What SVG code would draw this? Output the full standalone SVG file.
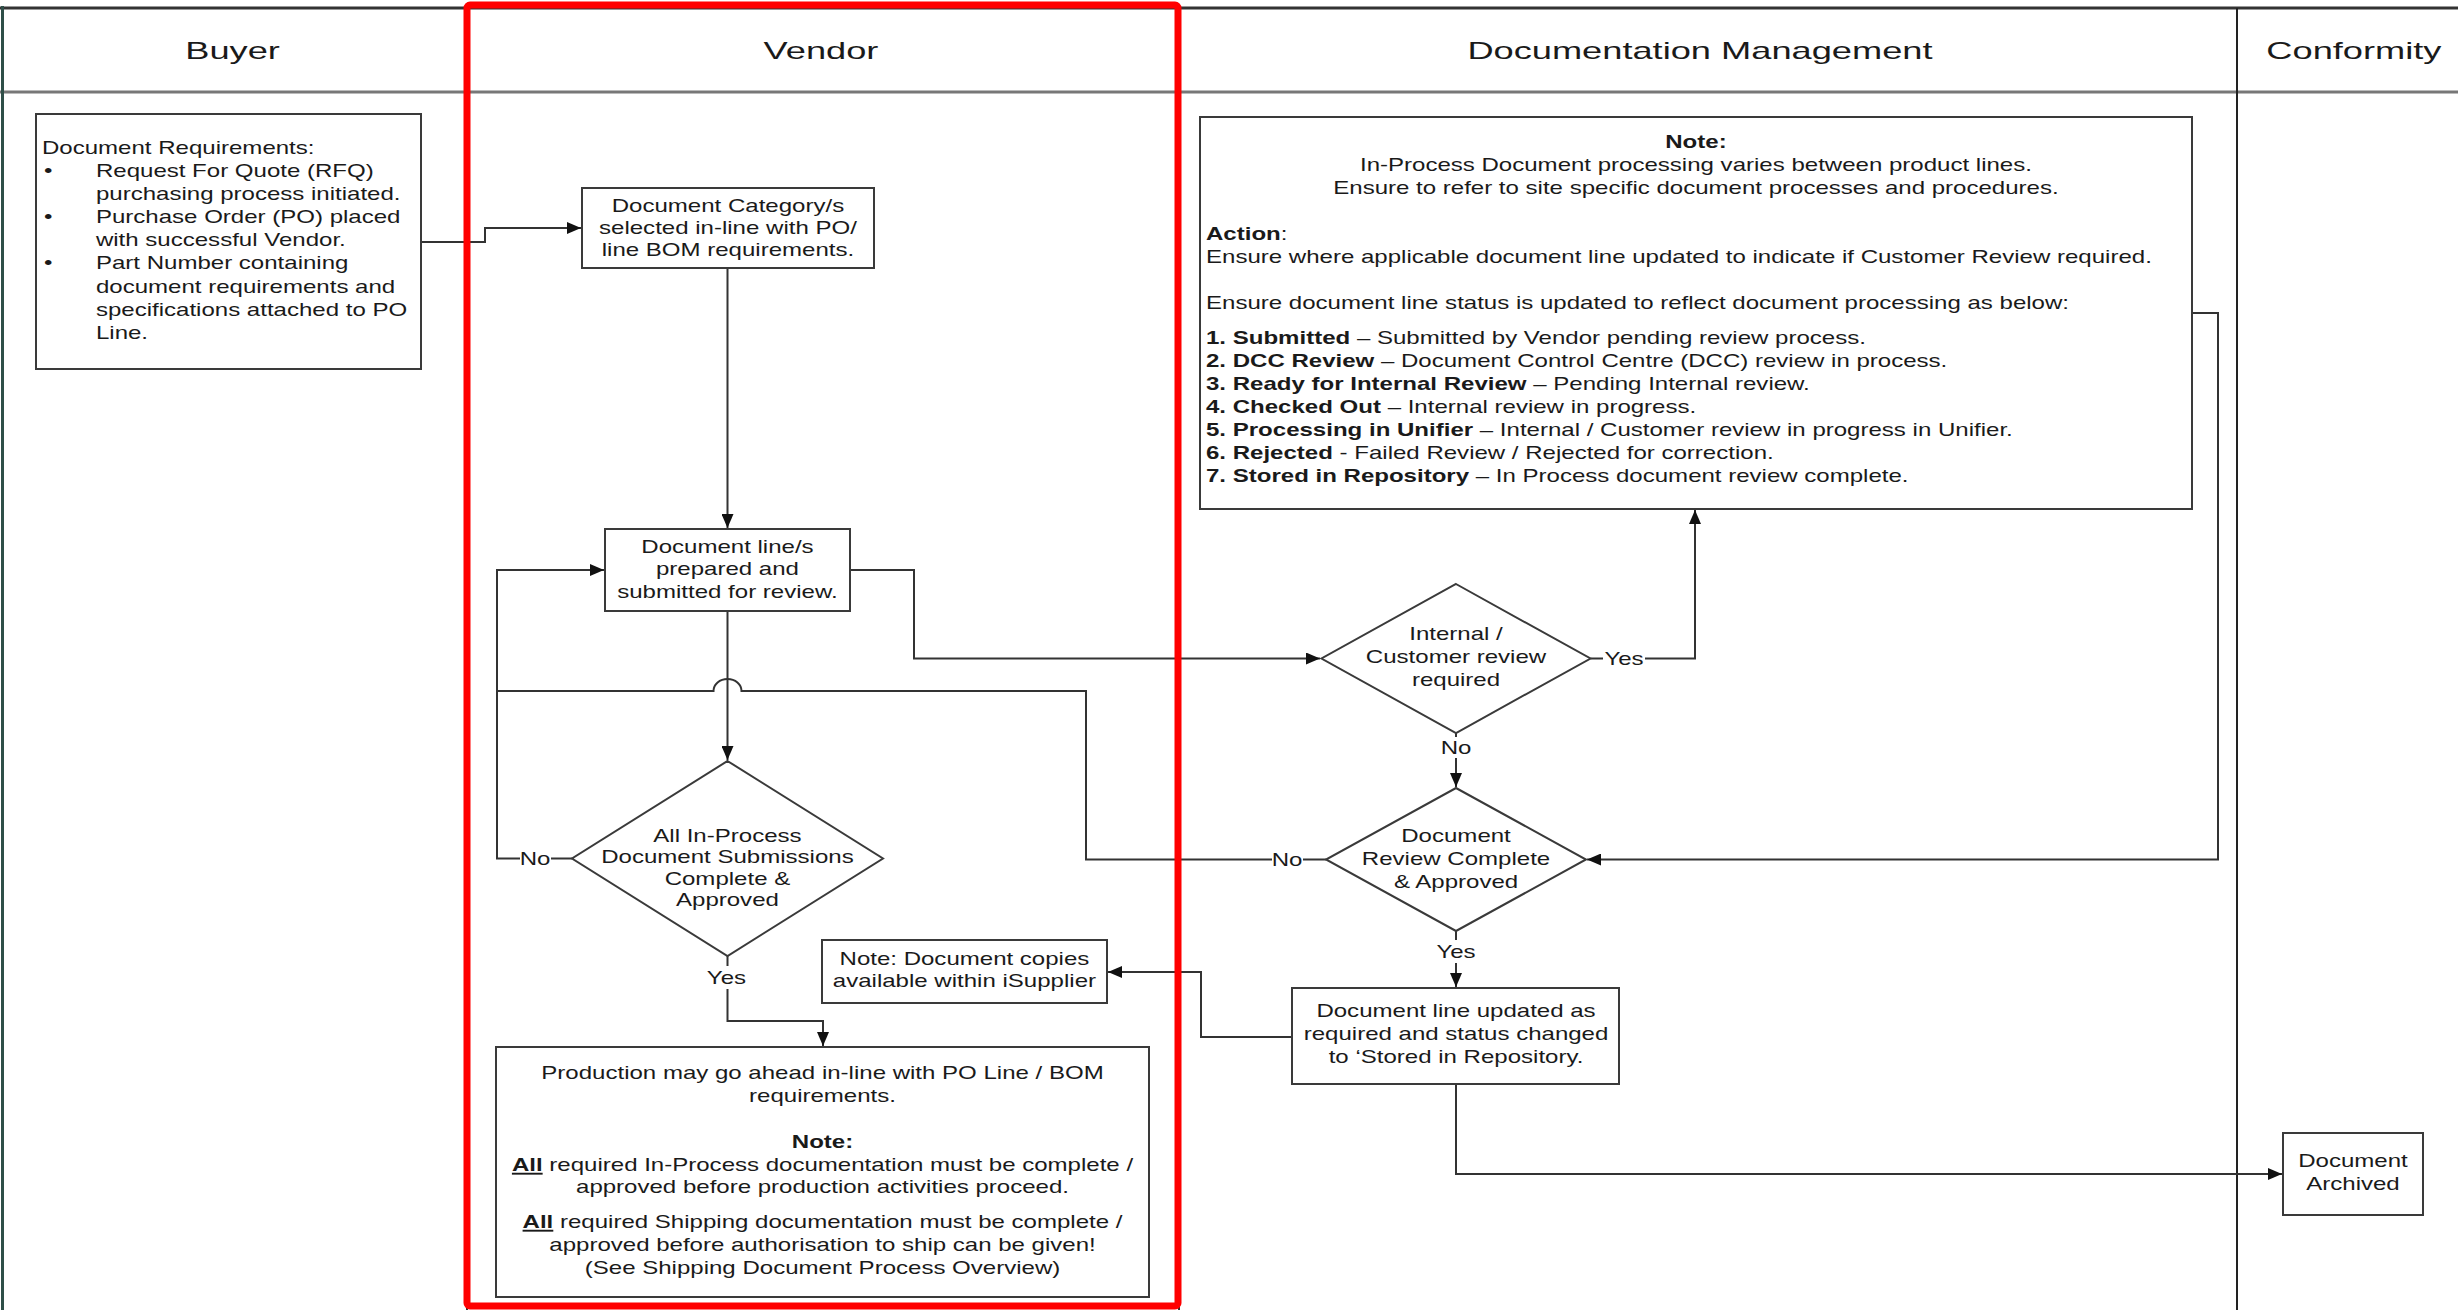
<svg xmlns="http://www.w3.org/2000/svg" width="2458" height="1310" viewBox="0 0 2458 1310">
<style>
.t{font-family:"Liberation Sans",Arial,sans-serif;font-size:19px;fill:#1a1a1a}
.c{text-anchor:middle}
.b{font-weight:bold}
.h{font-family:"Liberation Sans",Arial,sans-serif;font-size:24px;fill:#1a1a1a;text-anchor:middle}
.box{fill:#fff;stroke:#3a3a3a;stroke-width:2}
.ln{fill:none;stroke:#333;stroke-width:2}
.lab{fill:#fff;stroke:none}
.u{text-decoration:underline;font-weight:bold}
</style>
<defs>
<marker id="arr" viewBox="0 0 14 12" refX="14" refY="6" markerWidth="14" markerHeight="12" markerUnits="userSpaceOnUse" orient="auto">
<path d="M0,0 L14,6 L0,12 z" fill="#111"/>
</marker>
</defs>
<rect x="0" y="0" width="2458" height="1310" fill="#fff"/>

<g id="frame">
<line x1="0" y1="8" x2="2458" y2="8" stroke="#333" stroke-width="3"/>
<line x1="0" y1="92" x2="2458" y2="92" stroke="#777" stroke-width="3"/>
<line x1="2.5" y1="6" x2="2.5" y2="1310" stroke="#2f4f48" stroke-width="3"/>
<line x1="467" y1="8" x2="467" y2="1310" stroke="#333" stroke-width="2"/>
<line x1="1179" y1="8" x2="1179" y2="1310" stroke="#333" stroke-width="2"/>
<line x1="2237" y1="8" x2="2237" y2="1310" stroke="#222" stroke-width="2"/>
<g transform="scale(1.51 1)">
<text class="h" x="154" y="59">Buyer</text>
<text class="h" x="543.7" y="59">Vendor</text>
<text class="h" x="1125.8" y="59">Documentation Management</text>
<text class="h" x="1558.9" y="59">Conformity</text>
</g>
</g>

<g id="connectors">
<path class="ln" d="M421,242 H485 V228 H581" marker-end="url(#arr)"/>
<path class="ln" d="M727.5,268 V528" marker-end="url(#arr)"/>
<path class="ln" d="M572,858.5 H497 V570 H604" marker-end="url(#arr)"/>
<path class="ln" d="M850,570 H914 V658.5 H1320" marker-end="url(#arr)"/>
<path class="ln" d="M727.5,611 V760" marker-end="url(#arr)"/>
<path class="ln" d="M1590.5,658.5 H1695 V510" marker-end="url(#arr)"/>
<path class="ln" d="M1456,733 V787" marker-end="url(#arr)"/>
<path class="ln" d="M2192,313 H2218 V859.5 H1587" marker-end="url(#arr)"/>
<path class="ln" d="M1326,859.5 H1086 V691 H741.5 A14,12 0 0 0 713.5,691 H497"/>
<path class="ln" d="M727.5,956 V1021 H823 V1046" marker-end="url(#arr)"/>
<path class="ln" d="M1456,931 V987" marker-end="url(#arr)"/>
<path class="ln" d="M1292,1037 H1201 V972 H1108" marker-end="url(#arr)"/>
<path class="ln" d="M1456,1084 V1174 H2282" marker-end="url(#arr)"/>
<rect class="lab" x="520" y="848" width="31" height="21"/>
<rect class="lab" x="706" y="966" width="42" height="23"/>
<rect class="lab" x="1603" y="647" width="42" height="23"/>
<rect class="lab" x="1441" y="737" width="31" height="21"/>
<rect class="lab" x="1272" y="849" width="31" height="21"/>
<rect class="lab" x="1435" y="940" width="42" height="23"/>
<g transform="scale(1.266 1)">
<text class="t c" x="422.6" y="865">No</text>
<text class="t c" x="573.8" y="984.5">Yes</text>
<text class="t c" x="1282.8" y="665">Yes</text>
<text class="t c" x="1150.1" y="754">No</text>
<text class="t c" x="1016.6" y="866">No</text>
<text class="t c" x="1150.1" y="958.5">Yes</text>
</g>
</g>

<g id="buyer-requirements">
<rect class="box" x="36" y="114" width="385" height="255"/>
<g transform="scale(1.266 1)">
<text class="t" x="33.17" y="154">Document Requirements:</text>
<text class="t" x="34.71" y="177.1">•</text>
<text class="t" x="75.78" y="177.1">Request For Quote (RFQ)</text>
<text class="t" x="75.78" y="200.2">purchasing process initiated.</text>
<text class="t" x="34.71" y="223.3">•</text>
<text class="t" x="75.78" y="223.3">Purchase Order (PO) placed</text>
<text class="t" x="75.78" y="246.4">with successful Vendor.</text>
<text class="t" x="34.71" y="269.5">•</text>
<text class="t" x="75.78" y="269.5">Part Number containing</text>
<text class="t" x="75.78" y="292.6">document requirements and</text>
<text class="t" x="75.78" y="315.7">specifications attached to PO</text>
<text class="t" x="75.78" y="338.8">Line.</text>
</g>
</g>

<g id="vendor-category">
<rect class="box" x="582" y="188" width="292" height="80"/>
<g transform="scale(1.266 1)">
<text class="t c" x="575" y="212">Document Category/s</text>
<text class="t c" x="575" y="234">selected in-line with PO/</text>
<text class="t c" x="575" y="256">line BOM requirements.</text>
</g>
</g>

<g id="vendor-prepare">
<rect class="box" x="605" y="529" width="245" height="82"/>
<g transform="scale(1.266 1)">
<text class="t c" x="574.6" y="553">Document line/s</text>
<text class="t c" x="574.6" y="575.5">prepared and</text>
<text class="t c" x="574.6" y="598">submitted for review.</text>
</g>
</g>

<g id="vendor-decision">
<polygon class="box" points="727.5,761 883,858.5 727.5,956 572,858.5"/>
<g transform="scale(1.266 1)">
<text class="t c" x="574.6" y="842">All In-Process</text>
<text class="t c" x="574.6" y="863.5">Document Submissions</text>
<text class="t c" x="574.6" y="885">Complete &amp;</text>
<text class="t c" x="574.6" y="906.5">Approved</text>
</g>
</g>

<g id="vendor-isupplier-note">
<rect class="box" x="822" y="940" width="285" height="63"/>
<g transform="scale(1.266 1)">
<text class="t c" x="761.8" y="965">Note: Document copies</text>
<text class="t c" x="761.8" y="987">available within iSupplier</text>
</g>
</g>

<g id="vendor-production">
<rect class="box" x="496" y="1047" width="653" height="250"/>
<g transform="scale(1.266 1)">
<text class="t c" x="649.7" y="1079">Production may go ahead in-line with PO Line / BOM</text>
<text class="t c" x="649.7" y="1102">requirements.</text>
<text class="t c b" x="649.7" y="1148">Note:</text>
<text class="t c" x="649.7" y="1171"><tspan class="u">All</tspan> required In-Process documentation must be complete /</text>
<text class="t c" x="649.7" y="1193.5">approved before production activities proceed.</text>
<text class="t c" x="649.7" y="1228"><tspan class="u">All</tspan> required Shipping documentation must be complete /</text>
<text class="t c" x="649.7" y="1251">approved before authorisation to ship can be given!</text>
<text class="t c" x="649.7" y="1274">(See Shipping Document Process Overview)</text>
</g>
</g>

<g id="docmgmt-note">
<rect class="box" x="1200" y="117" width="992" height="392"/>
<g transform="scale(1.266 1)">
<text class="t c b" x="1339.6" y="148">Note:</text>
<text class="t c" x="1339.6" y="171.5">In-Process Document processing varies between product lines.</text>
<text class="t c" x="1339.6" y="194">Ensure to refer to site specific document processes and procedures.</text>
<text class="t" x="952.6" y="240"><tspan class="b">Action</tspan>:</text>
<text class="t" x="952.6" y="263">Ensure where applicable document line updated to indicate if Customer Review required.</text>
<text class="t" x="952.6" y="309">Ensure document line status is updated to reflect document processing as below:</text>
<text class="t" x="952.6" y="344"><tspan class="b">1. Submitted</tspan> – Submitted by Vendor pending review process.</text>
<text class="t" x="952.6" y="367"><tspan class="b">2. DCC Review</tspan> – Document Control Centre (DCC) review in process.</text>
<text class="t" x="952.6" y="390"><tspan class="b">3. Ready for Internal Review</tspan> – Pending Internal review.</text>
<text class="t" x="952.6" y="413"><tspan class="b">4. Checked Out</tspan> – Internal review in progress.</text>
<text class="t" x="952.6" y="436"><tspan class="b">5. Processing in Unifier</tspan> – Internal / Customer review in progress in Unifier.</text>
<text class="t" x="952.6" y="459"><tspan class="b">6. Rejected</tspan> - Failed Review / Rejected for correction.</text>
<text class="t" x="952.6" y="482"><tspan class="b">7. Stored in Repository</tspan> – In Process document review complete.</text>
</g>
</g>

<g id="docmgmt-review-required">
<polygon class="box" points="1456,584 1590.5,658.5 1456,733 1321.5,658.5"/>
<g transform="scale(1.266 1)">
<text class="t c" x="1150.1" y="640">Internal /</text>
<text class="t c" x="1150.1" y="663">Customer review</text>
<text class="t c" x="1150.1" y="686">required</text>
</g>
</g>

<g id="docmgmt-review-complete">
<polygon class="box" points="1456,788 1586,859.5 1456,931 1326,859.5"/>
<g transform="scale(1.266 1)">
<text class="t c" x="1150.1" y="842">Document</text>
<text class="t c" x="1150.1" y="865">Review Complete</text>
<text class="t c" x="1150.1" y="888">&amp; Approved</text>
</g>
</g>

<g id="docmgmt-stored">
<rect class="box" x="1292" y="988" width="327" height="96"/>
<g transform="scale(1.266 1)">
<text class="t c" x="1150.1" y="1017">Document line updated as</text>
<text class="t c" x="1150.1" y="1040">required and status changed</text>
<text class="t c" x="1150.1" y="1063">to ‘Stored in Repository.</text>
</g>
</g>

<g id="conformity-archived">
<rect class="box" x="2283" y="1133" width="140" height="82"/>
<g transform="scale(1.266 1)">
<text class="t c" x="1858.6" y="1167">Document</text>
<text class="t c" x="1858.6" y="1190">Archived</text>
</g>
</g>

<g id="highlight">
<rect x="467" y="5" width="711" height="1301" rx="3" fill="none" stroke="#ff0000" stroke-width="7"/>
</g>
</svg>
